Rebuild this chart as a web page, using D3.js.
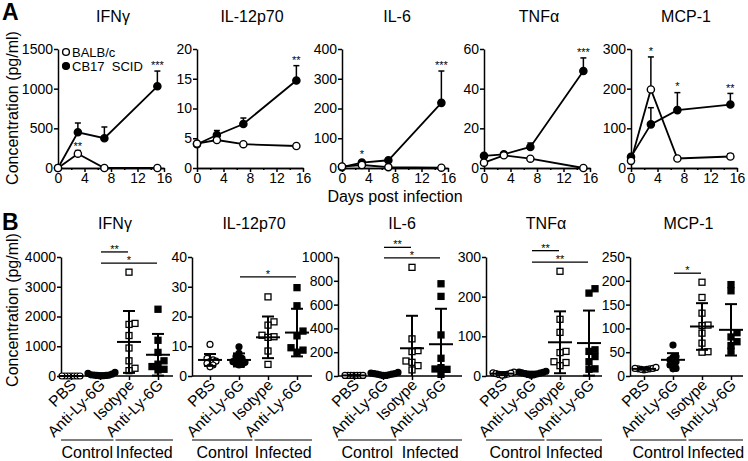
<!DOCTYPE html>
<html>
<head>
<meta charset="utf-8">
<script src="https://cdn.jsdelivr.net/npm/d3@7"></script>
<style>
    body { margin: 0; background: #fff; }
    svg { display: block; font-family: "Liberation Sans", Arial, sans-serif; }
</style>
</head>
<body>
<svg id="chart" width="748" height="461"></svg>
<script>
// ---- data: panel A (time course) ----
const cytokines = ["IFNγ", "IL-12p70", "IL-6", "TNFα", "MCP-1"];
const days = [0, 3, 7, 15];
const dayTicks = [0, 4, 8, 12, 16];
const dayMinorTicks = [2, 6, 10, 14];
const balbMeans = [[0, 180, 0, 0], [4.1, 4.7, 4.0, 3.7], [5, 10, 3, 1], [2.7, 6.4, 4.7, 0], [18, 198, 24, 29]];
const balbErrs = [[0, 40, 0, 0], [0, 0.2, 0, 0], [0, 0, 0, 0], [0, 0, 0, 0], [0, 82, 0, 7]];
const scidMeans = [[0, 450, 375, 1030], [4.0, 5.55, 7.4, 14.7], [3, 18, 26, 219], [6.1, 6.9, 10.6, 48.9], [28, 110, 146, 160]];
const scidErrs = [[0, 117, 142, 192], [0, 0.75, 1.0, 2.5], [0, 3, 3, 107], [0, 0.8, 2.0, 6.6], [0, 42, 44, 28]];
const timeYMax = [1500, 20, 400, 60, 300];
const timeYTicks = [[0, 500, 1000, 1500], [0, 5, 10, 15, 20], [0, 100, 200, 300, 400], [0, 20, 40, 60], [0, 100, 200, 300]];
const timeStars = [
    [{ day: 3, value: 265, text: "**" }, { day: 15, value: 1290, text: "***" }],
    [{ day: 15, value: 18.0, text: "**" }],
    [{ day: 3, value: 44, text: "*" }, { day: 15, value: 343, text: "***" }],
    [{ day: 15, value: 58, text: "***" }],
    [{ day: 3, value: 292, text: "*" }, { day: 7, value: 204, text: "*" }, { day: 15, value: 199, text: "**" }],
];
const legendNames = ["BALB/c", "CB17  SCID"];

// ---- data: panel B (neutrophil depletion) ----
const groupNames = ["PBS", "Anti-Ly-6G", "Isotype", "Anti-Ly-6G"];
const groupSets = ["Control", "Infected"];
const groupValues = [
    [[0, 0, 0, 0, 0, 0, 0], [10, 20, 30, 40, 60, 90, 120, 20, 10, 30],
     [3490, 1768, 1734, 1360, 940, 510, 260, 180], [2244, 1201, 793, 510, 397, 317, 204, 227]],
    [[10.6, 5.9, 5.4, 5, 4.8, 4.2, 3.7, 3.1], [9.8, 7.6, 6.5, 5.9, 5.4, 4.8, 4.6, 4.2, 3.9, 3.7],
     [26.6, 18.2, 17.1, 13.7, 13.2, 13, 8.4, 3.9], [29.7, 23.6, 15.1, 13.5, 9.5, 8.7, 8.0]],
    [[5, 5, 5, 5, 5, 5, 5], [5, 10, 15, 20, 25, 30, 10, 5, 15, 20],
     [913, 312, 213, 205, 126, 115, 87, 51], [775, 669, 345, 149, 70, 59, 56, 14]],
    [[3, 5, 8, 10, 6, 4, 2, 7], [3, 5, 8, 10, 12, 6, 4, 2, 9, 7],
     [264, 143, 110, 62, 59, 36, 34, 26], [220, 209, 66, 62, 49, 36, 18, 17]],
    [[13, 14, 15, 16, 18, 15, 14, 16], [65, 41, 39, 34, 30, 29, 23, 16, 15],
     [197, 165, 132, 107, 106, 90, 69, 51, 50], [192, 179, 91, 82, 72, 64, 52]],
];
const groupMeans = [[0, 40, 1145, 714], [5.4, 5.4, 13.0, 14.6], [5, 15, 233, 267], [6, 7, 85, 83], [15, 34, 104, 97]];
const groupSDs = [[0, 35, 1040, 700], [2.0, 2.2, 7.0, 8.0], [2, 8, 273, 298], [4, 4, 78, 82], [2, 14, 49, 54]];
const dotYMax = [4000, 40, 1000, 300, 250];
const dotYTicks = [[0, 1000, 2000, 3000, 4000], [0, 10, 20, 30, 40], [0, 200, 400, 600, 800, 1000], [0, 100, 200, 300], [0, 50, 100, 150, 200, 250]];
const sigBars = [
    [{ from: 1, to: 2, value: 4170, text: "**" }, { from: 1, to: 3, value: 3796, text: "*" }],
    [{ from: 1, to: 3, value: 33.3, text: "*" }],
    [{ from: 1, to: 2, value: 1081, text: "**" }, { from: 1, to: 3, value: 992, text: "*" }],
    [{ from: 1, to: 2, value: 316, text: "**" }, { from: 1, to: 3, value: 287, text: "**" }],
    [{ from: 1, to: 2, value: 216, text: "*" }],
];

// ---- layout ----
const svg = d3.select("#chart");
const aLeft = [58, 197, 342, 484, 631];
const aWidth = 106;
const aTop = 49, aBottom = 168;
const bLeft = [61, 192, 338, 486, 630];
const bRight = [173, 312, 462, 602, 743];
const bFirst = [71, 210, 354, 502, 644];
const bStep = 29;
const bTop = 257, bBottom = 376;

function styleAxis(sel) {
    sel.attr("font-family", null).attr("font-size", 14);
    sel.selectAll("path, line").attr("stroke", "#000").attr("stroke-width", 1.5);
    sel.selectAll("text").attr("fill", "#000");
}

function panelLetter(text, y) {
    svg.append("text").attr("x", 2).attr("y", y)
        .attr("font-size", 23).attr("font-weight", "bold").text(text);
}

function yLabel(cy) {
    svg.append("text")
        .attr("transform", `translate(18,${cy}) rotate(-90)`)
        .attr("text-anchor", "middle").attr("font-size", 16)
        .text("Concentration (pg/ml)");
}

// ---- panel A ----
panelLetter("A", 20);
yLabel(108);

cytokines.forEach((name, i) => {
    const g = svg.append("g");
    const x = d3.scaleLinear().domain([0, 16]).range([aLeft[i], aLeft[i] + aWidth]);
    const y = d3.scaleLinear().domain([0, timeYMax[i]]).range([aBottom, aTop]);

    g.append("text").attr("x", aLeft[i] + aWidth / 2 + 2).attr("y", 22)
        .attr("text-anchor", "middle").attr("font-size", 16).text(name);

    g.append("g").attr("transform", `translate(0,${aBottom})`)
        .call(d3.axisBottom(x).tickValues(dayMinorTicks).tickSize(2).tickSizeOuter(0).tickFormat(""))
        .call(styleAxis);
    g.append("g").attr("transform", `translate(0,${aBottom})`)
        .call(d3.axisBottom(x).tickValues(dayTicks).tickSize(4).tickSizeOuter(0).tickPadding(1))
        .call(styleAxis);
    g.append("g").attr("transform", `translate(${aLeft[i]},0)`)
        .call(d3.axisLeft(y).tickValues(timeYTicks[i]).tickSize(4).tickSizeOuter(0)
            .tickPadding(1).tickFormat(d3.format("d")))
        .call(styleAxis);

    const line = d3.line().x((d, j) => x(days[j])).y(d => y(d));
    const series = [
        { means: scidMeans[i], errs: scidErrs[i], fill: "#000" },
        { means: balbMeans[i], errs: balbErrs[i], fill: "#fff" },
    ];
    series.forEach(s => {
        const eb = g.append("g");
        s.means.forEach((m, j) => {
            if (!s.errs[j]) return;
            const cx = x(days[j]);
            eb.append("line").attr("x1", cx).attr("x2", cx)
                .attr("y1", y(m)).attr("y2", y(m + s.errs[j]))
                .attr("stroke", "#000").attr("stroke-width", 1.5);
            eb.append("line").attr("x1", cx - 3).attr("x2", cx + 3)
                .attr("y1", y(m + s.errs[j])).attr("y2", y(m + s.errs[j]))
                .attr("stroke", "#000").attr("stroke-width", 1.5);
        });
    });
    series.forEach(s => {
        g.append("path").datum(s.means).attr("d", line)
            .attr("fill", "none").attr("stroke", "#000").attr("stroke-width", 1.8);
    });
    series.forEach(s => {
        g.append("g").selectAll("circle").data(s.means).join("circle")
            .attr("cx", (d, j) => x(days[j])).attr("cy", d => y(d)).attr("r", 3.6)
            .attr("fill", s.fill).attr("stroke", "#000").attr("stroke-width", 1.4);
    });

    g.append("g").selectAll("text").data(timeStars[i]).join("text")
        .attr("x", d => x(d.day)).attr("y", d => y(d.value) + 3)
        .attr("text-anchor", "middle").attr("font-size", 11).text(d => d.text);

    if (i === 0) {
        const lg = g.append("g");
        legendNames.forEach((n, k) => {
            const ly = 52 + k * 14;
            lg.append("circle").attr("cx", aLeft[i] + 8).attr("cy", ly).attr("r", 3.4)
                .attr("fill", k === 0 ? "#fff" : "#000").attr("stroke", "#000").attr("stroke-width", 1.4);
            lg.append("text").attr("x", aLeft[i] + 14).attr("y", ly + 4.5)
                .attr("font-size", 13).style("white-space", "pre").text(n);
        });
    }
});

svg.append("text").attr("x", 395).attr("y", 202).attr("text-anchor", "middle")
    .attr("font-size", 16).text("Days post infection");

// ---- panel B ----
panelLetter("B", 230);
yLabel(310);

// deterministic column-scatter offsets, like a bee swarm
function swarm(values, y, dxMin, dyMin, step) {
    const order = values.map((v, k) => k).sort((a, b) => values[a] - values[b]);
    const placed = [];
    const offsets = new Array(values.length).fill(0);
    order.forEach(k => {
        const py = y(values[k]);
        for (let n = 0; n < 40; n++) {
            const off = (n % 2 ? 1 : -1) * Math.ceil(n / 2) * step;
            const free = placed.every(p => Math.abs(p.x - off) >= dxMin || Math.abs(p.y - py) >= dyMin);
            if (free) {
                offsets[k] = off;
                placed.push({ x: off, y: py });
                break;
            }
        }
    });
    return offsets;
}

cytokines.forEach((name, i) => {
    const g = svg.append("g");
    const x = d3.scalePoint().domain([0, 1, 2, 3]).range([bFirst[i], bFirst[i] + 3 * bStep]);
    const y = d3.scaleLinear().domain([0, dotYMax[i]]).range([bBottom, bTop]);
    const titleX = i === 0 ? 115 : (bLeft[i] + bRight[i]) / 2 + 2;

    g.append("text").attr("x", titleX).attr("y", 229)
        .attr("text-anchor", "middle").attr("font-size", 16).text(name);

    g.append("g").attr("transform", `translate(${bLeft[i]},0)`)
        .call(d3.axisLeft(y).tickValues(dotYTicks[i]).tickSize(4).tickSizeOuter(0)
            .tickPadding(1).tickFormat(d3.format("d")))
        .call(styleAxis);
    g.append("line").attr("x1", bLeft[i]).attr("x2", bRight[i])
        .attr("y1", bBottom).attr("y2", bBottom)
        .attr("stroke", "#000").attr("stroke-width", 1.5);
    g.append("g").attr("transform", `translate(0,${bBottom})`)
        .call(d3.axisBottom(x).tickSize(4).tickSizeOuter(0).tickFormat(""))
        .call(styleAxis)
        .call(a => a.select(".domain").remove());

    // points
    groupValues[i].forEach((vals, k) => {
        const isSquare = k >= 2;
        const filled = k % 2 === 1;
        const offs = isSquare ? swarm(vals, y, 6, 5.5, 3) : swarm(vals, y, 3, 4, 3);
        const cx = x(k);
        const pg = g.append("g");
        if (isSquare) {
            pg.selectAll("rect").data(vals).join("rect")
                .attr("x", (d, j) => cx + offs[j] - 3).attr("y", d => y(d) - 3)
                .attr("width", 6).attr("height", 6)
                .attr("fill", filled ? "#000" : "#fff").attr("stroke", "#000").attr("stroke-width", 1.3);
        } else {
            pg.selectAll("circle").data(vals).join("circle")
                .attr("cx", (d, j) => cx + offs[j]).attr("cy", d => y(d)).attr("r", 3)
                .attr("fill", filled ? "#000" : "#fff").attr("stroke", "#000").attr("stroke-width", 1.2);
        }
    });

    // mean and SD
    groupMeans[i].forEach((m, k) => {
        const cx = x(k);
        const sd = groupSDs[i][k];
        const top = y(m + sd), bot = y(Math.max(0, m - sd));
        const mg = g.append("g").attr("stroke", "#000").attr("stroke-width", 2);
        mg.append("line").attr("x1", cx - 12).attr("x2", cx + 12).attr("y1", y(m)).attr("y2", y(m));
        if (sd > 0) {
            mg.append("line").attr("x1", cx).attr("x2", cx).attr("y1", top).attr("y2", bot);
            mg.append("line").attr("x1", cx - 6).attr("x2", cx + 6).attr("y1", top).attr("y2", top);
            if (m - sd > 0) mg.append("line").attr("x1", cx - 6).attr("x2", cx + 6).attr("y1", bot).attr("y2", bot);
        }
    });

    // significance bars
    sigBars[i].forEach(s => {
        g.append("line").attr("x1", x(s.from) + 1).attr("x2", x(s.to) - 1)
            .attr("y1", y(s.value)).attr("y2", y(s.value))
            .attr("stroke", "#000").attr("stroke-width", 1.3);
        g.append("text").attr("x", (x(s.from) + x(s.to)) / 2).attr("y", y(s.value) + 1)
            .attr("text-anchor", "middle").attr("font-size", 11).text(s.text);
    });

    // rotated category labels
    g.append("g").selectAll("text").data(groupNames).join("text")
        .attr("transform", (d, k) => `translate(${x(k) + 6},${bBottom + 10}) rotate(-45)`)
        .attr("text-anchor", "end").attr("font-size", 15.5).text(d => d);

    // control / infected brackets
    const mid = (x(1) + x(2)) / 2;
    const spans = [[bLeft[i], mid - 1], [mid + 1, bRight[i]]];
    spans.forEach((sp, k) => {
        g.append("line").attr("x1", sp[0]).attr("x2", sp[1]).attr("y1", 440).attr("y2", 440)
            .attr("stroke", "#000").attr("stroke-width", 1.2);
        g.append("text").attr("x", (sp[0] + sp[1]) / 2).attr("y", 458)
            .attr("text-anchor", "middle").attr("font-size", 16).text(groupSets[k]);
    });
});
</script>
</body>
</html>
